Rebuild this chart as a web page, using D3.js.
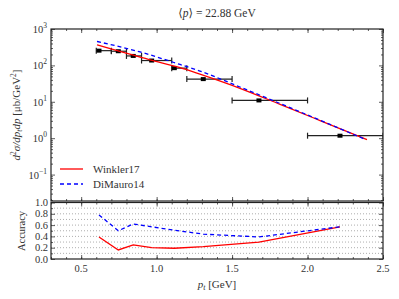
<!DOCTYPE html>
<html lang="en">
<head>
<meta charset="utf-8">
<title>pt spectrum</title>
<script src="https://d3js.org/d3.v7.min.js"></script>
<style>
body { margin: 0; background: #fff; }
text { font-family: "Liberation Serif", "DejaVu Serif", serif; fill: #333; }
</style>
</head>
<body>
<script>
// measured spectrum: pt bins, mean pt and cross section (mub/GeV^2)
var binLow  = [0.6, 0.7, 0.8, 0.9, 1.1, 1.2, 1.5, 2.0];
var binHigh = [0.7, 0.8, 0.9, 1.1, 1.2, 1.5, 2.0, 2.5];
var ptData  = [0.618, 0.746, 0.845, 0.967, 1.117, 1.309, 1.678, 2.215];
var xsData  = [254, 245, 182, 136, 84, 42, 10.9, 1.17];

// model curves
var ptWinkler = [0.605, 0.956, 1.155, 1.287, 1.552, 1.818, 2.083, 2.394];
var xsWinkler = [365, 142, 87, 57.5, 23.5, 8.5, 3.05, 0.91];
var ptDiMauro = [0.605, 0.890, 1.155, 1.287, 1.552, 1.884, 2.388];
var xsDiMauro = [455, 234, 106, 70, 25.5, 6.9, 0.91];

// accuracy of each model at the data points
var accWinkler = [0.39, 0.16, 0.25, 0.20, 0.19, 0.22, 0.30, 0.57];
var accDiMauro = [0.78, 0.50, 0.62, 0.57, 0.51, 0.44, 0.39, 0.57];

var decades = [0.1, 1, 10, 100, 1000];
var decadeExp = ["\u22121", "0", "1", "2", "3"];
var accTicks = [0, 0.2, 0.4, 0.6, 0.8, 1.0];

var svg = d3.select("body").append("svg").attr("width", 399).attr("height", 299);

var left = 51, right = 383;
var top1 = 29, bot1 = 201;     // spectrum panel
var top2 = 202.5, bot2 = 259;  // accuracy panel

var x = d3.scaleLinear().domain([0.3, 2.5]).range([left, right]);
var y = d3.scaleLog().domain([0.0188, 1000]).range([bot1, top1]);
var yAcc = d3.scaleLinear().domain([0, 1]).range([bot2, top2]);

svg.append("clipPath").attr("id", "clip1")
    .append("rect").attr("x", left).attr("y", top1).attr("width", right - left).attr("height", bot1 - top1);

var xMinor = d3.range(0.3, 2.5001, 0.1);
var xMajor = [0.5, 1.0, 1.5, 2.0, 2.5];

// draw inward ticks on all four sides of a panel
function frameTicks(yScale, yMajor, yMinor, pTop, pBot) {
    var g = svg.append("g").attr("class", "ticks");
    [[d3.axisBottom, pBot], [d3.axisTop, pTop]].forEach(function(a) {
        g.append("g").attr("transform", "translate(0," + a[1] + ")")
            .call(a[0](x).tickValues(xMinor).tickSize(-2).tickFormat(""));
        g.append("g").attr("transform", "translate(0," + a[1] + ")")
            .call(a[0](x).tickValues(xMajor).tickSize(-4).tickFormat(""));
    });
    [[d3.axisLeft, left], [d3.axisRight, right]].forEach(function(a) {
        g.append("g").attr("transform", "translate(" + a[1] + ",0)")
            .call(a[0](yScale).tickValues(yMinor).tickSize(-2).tickFormat(""));
        g.append("g").attr("transform", "translate(" + a[1] + ",0)")
            .call(a[0](yScale).tickValues(yMajor).tickSize(-4).tickFormat(""));
    });
    g.selectAll(".domain").remove();
    g.selectAll("line").attr("stroke", "#333").attr("stroke-width", 0.8);
    svg.append("rect").attr("x", left).attr("y", pTop).attr("width", right - left).attr("height", pBot - pTop)
        .attr("fill", "none").attr("stroke", "#222").attr("stroke-width", 1.2);
}

// log minor ticks
var logMinor = [];
[0.01, 0.1, 1, 10, 100].forEach(function(d) {
    for (var k = 2; k < 10; k++) {
        var v = d * k;
        if (v > 0.0188 && v < 1000) logMinor.push(v);
    }
});

// ---- top panel ----
// model curves
var curveW = ptWinkler.map(function(d, i) { return [d, xsWinkler[i]]; });
var curveD = ptDiMauro.map(function(d, i) { return [d, xsDiMauro[i]]; });
var logLine = d3.line().x(function(d) { return x(d[0]); }).y(function(d) { return y(d[1]); })
    .curve(d3.curveMonotoneX);

var plot = svg.append("g").attr("clip-path", "url(#clip1)");

// error bars
var bars = plot.selectAll(".err").data(ptData).enter().append("g").attr("class", "err");
bars.append("line")
    .attr("x1", function(d, i) { return x(binLow[i]); })
    .attr("x2", function(d, i) { return x(binHigh[i]); })
    .attr("y1", function(d, i) { return y(xsData[i]); })
    .attr("y2", function(d, i) { return y(xsData[i]); })
    .attr("stroke", "#222").attr("stroke-width", 1.2);
[binLow, binHigh].forEach(function(edge) {
    bars.append("line")
        .attr("x1", function(d, i) { return x(edge[i]); })
        .attr("x2", function(d, i) { return x(edge[i]); })
        .attr("y1", function(d, i) { return y(xsData[i]) - 3; })
        .attr("y2", function(d, i) { return y(xsData[i]) + 3; })
        .attr("stroke", "#222").attr("stroke-width", 1.2);
});
bars.append("rect")
    .attr("x", function(d) { return x(d) - 2.5; })
    .attr("y", function(d, i) { return y(xsData[i]) - 2; })
    .attr("width", 5).attr("height", 4)
    .attr("fill", "#000");

plot.append("path").datum(curveW).attr("d", logLine)
    .attr("fill", "none").attr("stroke", "#ff0000").attr("stroke-width", 1.3);
plot.append("path").datum(curveD).attr("d", logLine)
    .attr("fill", "none").attr("stroke", "#0000ff").attr("stroke-width", 1.3)
    .attr("stroke-dasharray", "4,3");

frameTicks(y, decades, logMinor, top1, bot1);

// decade labels
var ylab = svg.append("g").selectAll("text").data(decades).enter().append("text")
    .attr("x", left - 4)
    .attr("y", function(d) { return y(d) + 4; })
    .attr("text-anchor", "end")
    .style("font-size", "10.5px");
ylab.append("tspan").text("10");
ylab.append("tspan").attr("dy", -5).style("font-size", "7.5px")
    .text(function(d, i) { return decadeExp[i]; });

// legend
var legend = svg.append("g");
legend.append("line").attr("x1", 60).attr("x2", 83).attr("y1", 169).attr("y2", 169)
    .attr("stroke", "#ff0000").attr("stroke-width", 1.3);
legend.append("line").attr("x1", 60).attr("x2", 83).attr("y1", 184).attr("y2", 184)
    .attr("stroke", "#0000ff").attr("stroke-width", 1.3).attr("stroke-dasharray", "4,3");
legend.append("text").attr("x", 93).attr("y", 172.5).style("font-size", "11px").text("Winkler17");
legend.append("text").attr("x", 93).attr("y", 187.5).style("font-size", "11px").text("DiMauro14");

// ---- bottom panel ----
svg.append("g").selectAll("line").data(d3.range(0.1, 0.95, 0.1)).enter().append("line")
    .attr("x1", left).attr("x2", right)
    .attr("y1", function(d) { return yAcc(d); })
    .attr("y2", function(d) { return yAcc(d); })
    .attr("stroke", "#999").attr("stroke-width", 0.8).attr("stroke-dasharray", "1,2");

var accLine = d3.line().x(function(d) { return x(d[0]); }).y(function(d) { return yAcc(d[1]); });
svg.append("path").datum(ptData.map(function(d, i) { return [d, accWinkler[i]]; }))
    .attr("d", accLine).attr("fill", "none").attr("stroke", "#ff0000").attr("stroke-width", 1.3);
svg.append("path").datum(ptData.map(function(d, i) { return [d, accDiMauro[i]]; }))
    .attr("d", accLine).attr("fill", "none").attr("stroke", "#0000ff").attr("stroke-width", 1.3)
    .attr("stroke-dasharray", "4,3");

frameTicks(yAcc, accTicks, d3.range(0.1, 1, 0.2), top2, bot2);

svg.append("g").selectAll("text").data(accTicks).enter().append("text")
    .attr("x", left - 3)
    .attr("y", function(d) { return yAcc(d) + 3.5; })
    .attr("text-anchor", "end")
    .style("font-size", "10.5px")
    .text(function(d) { return d.toFixed(1); });

svg.append("g").selectAll("text").data(xMajor).enter().append("text")
    .attr("x", function(d) { return x(d); })
    .attr("y", 272)
    .attr("text-anchor", "middle")
    .style("font-size", "10.5px")
    .text(function(d) { return d.toFixed(1); });

// titles and axis labels
var title = svg.append("text").attr("x", (left + right) / 2).attr("y", 17)
    .attr("text-anchor", "middle").style("font-size", "11.5px");
title.append("tspan").text("\u27E8");
title.append("tspan").style("font-style", "italic").text("p");
title.append("tspan").text("\u27E9 = 22.88 GeV");

var xl = svg.append("text").attr("x", (left + right) / 2).attr("y", 288)
    .attr("text-anchor", "middle").style("font-size", "11px");
xl.append("tspan").style("font-style", "italic").text("p");
xl.append("tspan").attr("dy", 2).style("font-size", "8px").style("font-style", "italic").text("t");
xl.append("tspan").attr("dy", -2).text(" [GeV]");

var yl = svg.append("text").attr("transform", "translate(20,115) rotate(-90)")
    .attr("text-anchor", "middle").style("font-size", "11px");
yl.append("tspan").style("font-style", "italic").text("d");
yl.append("tspan").attr("dy", -4).style("font-size", "7.5px").text("2");
yl.append("tspan").attr("dy", 4).style("font-style", "italic").text("\u03C3/dp");
yl.append("tspan").attr("dy", 2).style("font-size", "8px").style("font-style", "italic").text("t");
yl.append("tspan").attr("dy", -2).style("font-style", "italic").text("dp");
yl.append("tspan").text(" [\u03BCb/GeV");
yl.append("tspan").attr("dy", -4).style("font-size", "7.5px").text("2");
yl.append("tspan").attr("dy", 4).text("]");

svg.append("text").attr("transform", "translate(25,231) rotate(-90)")
    .attr("text-anchor", "middle").style("font-size", "10.5px").text("Accuracy");
</script>
</body>
</html>
